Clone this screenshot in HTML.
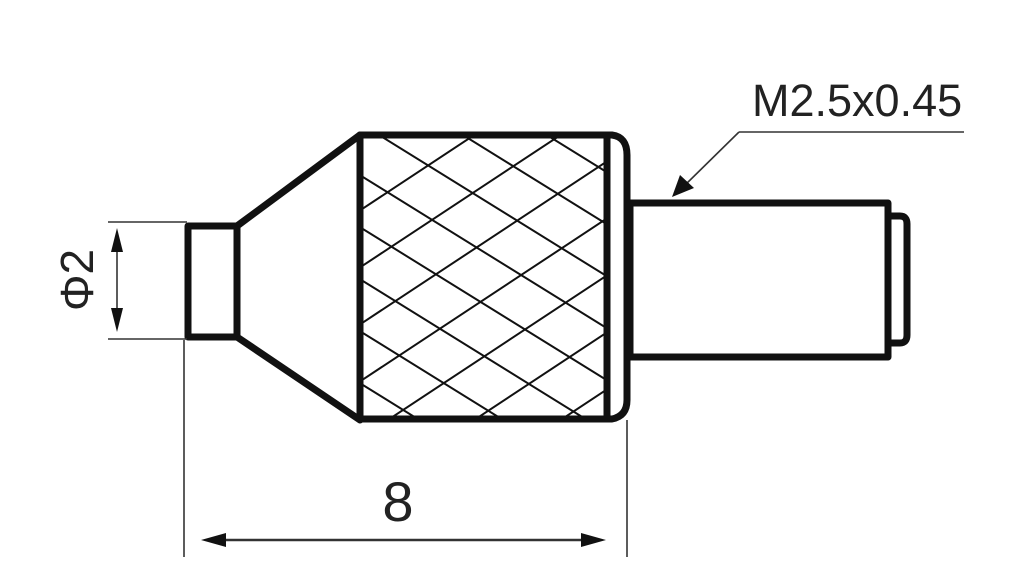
<!DOCTYPE html>
<html><head><style>html,body{margin:0;padding:0;background:#fff;width:1024px;height:581px;overflow:hidden;}svg{display:block}</style></head>
<body>
<svg width="1024" height="581" viewBox="0 0 1024 581" xmlns="http://www.w3.org/2000/svg">
<defs>
<clipPath id="k"><rect x="363" y="138" width="241" height="279"/></clipPath>
</defs>
<g clip-path="url(#k)" stroke="#111" stroke-width="2" fill="none">
<path d="M300,250 L700,-14 M300,307 L700,43 M300,364 L700,100 M300,421 L700,157 M300,478 L700,214 M300,535 L700,271 M300,592 L700,328 M300,649 L700,385 M300,706 L700,442 M300,763 L700,499"/>
<path d="M300,-70 L700,178 M300,-18 L700,230 M300,34 L700,282 M300,86 L700,334 M300,138 L700,386 M300,190 L700,438 M300,242 L700,490 M300,294 L700,542 M300,346 L700,594"/>
</g>
<g stroke="#111" stroke-width="7" fill="none" stroke-linejoin="round">
<rect x="188" y="226" width="49" height="111"/>
<path d="M237,226 L360,135 L360,420 L237,337"/>
<rect x="360" y="135" width="247" height="284"/>
<path d="M607,135 L612,135 Q627,137 627,155 L627,400 Q627,416 612,419 L607,419"/>
<rect x="630" y="203" width="258" height="154"/>
<path d="M888,216 L900,216 Q907,216 907,224 L907,335 Q907,343 900,343 L888,343"/>
</g>
<g stroke="#333" stroke-width="1.6" fill="none">
<line x1="108" y1="222" x2="187" y2="222"/>
<line x1="108" y1="339" x2="187" y2="339"/>
<line x1="117" y1="235" x2="117" y2="326"/>
<line x1="184" y1="340" x2="184" y2="557"/>
<line x1="627" y1="420" x2="627" y2="557"/>
<line x1="215" y1="540" x2="592" y2="540" stroke-width="2.5"/>
<line x1="739" y1="132" x2="964" y2="132"/>
<line x1="739" y1="132" x2="682" y2="188"/>
</g>
<g fill="#111">
<polygon points="117,228 111,252 123,252"/>
<polygon points="117,332 111,308 123,308"/>
<polygon points="201,540 226,533 226,547"/>
<polygon points="606,540 581,533 581,547"/>
<polygon points="672,197 680,175 694,188"/>
</g>
<text x="752" y="116" font-family="Liberation Sans, sans-serif" font-size="45" fill="#222">M2.5x0.45</text>
<text x="398" y="521" text-anchor="middle" font-family="Liberation Sans, sans-serif" font-size="56" fill="#222">8</text>
<text transform="translate(93,280) rotate(-90)" text-anchor="middle" font-family="Liberation Sans, DejaVu Sans, sans-serif" font-size="46" fill="#222">Φ2</text>
</svg>
</body></html>
